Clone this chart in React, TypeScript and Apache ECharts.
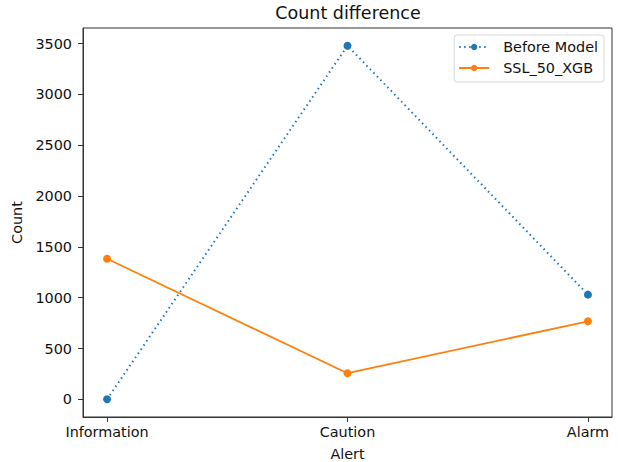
import React, { useEffect, useRef } from "react";
import * as echarts from "echarts";

const categories = ["Information", "Caution", "Alarm"];
const beforeModel = [0, 3480, 1030];
const ssl50Xgb = [1383, 257, 768];
const yTicks = [0, 500, 1000, 1500, 2000, 2500, 3000, 3500];

const FONT = "DejaVu Sans";
const FS = 14.4;

export default function App() {
  const ref = useRef<HTMLDivElement>(null);
  useEffect(() => {
    if (!ref.current) return;
    const chart = echarts.init(ref.current, null, { renderer: "svg" });
    const allVals = [...beforeModel, ...ssl50Xgb];
    const dmin = Math.min(...allVals);
    const dmax = Math.max(...allVals);
    const pad = (dmax - dmin) * 0.05;
    const xIdx = categories.map((_, i) => i);
    const xPad = (categories.length - 1) * 0.05;
    chart.setOption({
      animation: false,
      backgroundColor: "#fff",
      textStyle: { fontFamily: FONT },
      title: {
        text: "Count difference",
        left: 348,
        top: 4,
        padding: 0,
        textAlign: "center",
        textStyle: { fontFamily: FONT, fontSize: 17.5, fontWeight: "normal", color: "#111" },
      },
      grid: {
        left: 83,
        right: 6,
        top: 28,
        bottom: 45,
        outerBoundsMode: "none",
        containLabel: false,
        show: true,
        borderColor: "#333",
        borderWidth: 1,
        backgroundColor: "transparent",
      },
      legend: {
        right: 14,
        top: 35,
        orient: "vertical",
        align: "left",
        itemWidth: 30,
        itemHeight: 8,
        itemGap: 7,
        padding: [5, 6, 7, 4],
        borderColor: "#d8d8d8",
        borderWidth: 1,
        borderRadius: 3,
        textStyle: { fontFamily: FONT, fontSize: FS, color: "#111", padding: [0, 0, 0, 9] },
        data: ["Before Model", "SSL_50_XGB"],
      },
      xAxis: {
        type: "value",
        min: -xPad,
        max: categories.length - 1 + xPad,
        name: "Alert",
        nameLocation: "middle",
        nameGap: 30,
        nameTextStyle: { fontFamily: FONT, fontSize: FS, color: "#111" },
        axisLine: { show: true, onZero: false, lineStyle: { color: "#333", width: 1 } },
        axisTick: { show: true, length: 5, customValues: xIdx, lineStyle: { color: "#333" } },
        axisLabel: {
          customValues: xIdx,
          formatter: (v: number) => categories[Math.round(v)] ?? "",
          fontFamily: FONT,
          fontSize: FS,
          color: "#111",
          margin: 8,
        },
        splitLine: { show: false },
      },
      yAxis: {
        type: "value",
        min: dmin - pad,
        max: dmax + pad,
        name: "Count",
        nameLocation: "middle",
        nameGap: 55,
        nameTextStyle: { fontFamily: FONT, fontSize: FS, color: "#111" },
        axisLine: { show: true, onZero: false, lineStyle: { color: "#333", width: 1 } },
        axisTick: { show: true, length: 5, customValues: yTicks, lineStyle: { color: "#333" } },
        axisLabel: {
          customValues: yTicks,
          formatter: (v: number) => String(Math.round(v)),
          fontFamily: FONT,
          fontSize: FS,
          color: "#111",
          margin: 11,
        },
        splitLine: { show: false },
      },
      series: [
        {
          name: "Before Model",
          type: "line",
          data: beforeModel.map((v, i) => [i, v]),
          symbol: "circle",
          symbolSize: 8,
          itemStyle: { color: "#1f77b4" },
          lineStyle: { color: "#1f77b4", width: 2, type: [1.5, 3.5] },
        },
        {
          name: "SSL_50_XGB",
          type: "line",
          data: ssl50Xgb.map((v, i) => [i, v]),
          symbol: "circle",
          symbolSize: 8,
          itemStyle: { color: "#ff7f0e" },
          lineStyle: { color: "#ff7f0e", width: 1.8 },
        },
      ],
    });
    return () => chart.dispose();
  }, []);
  return <div ref={ref} style={{ width: 618, height: 462, position: "absolute", left: 0, top: 0 }} />;
}
